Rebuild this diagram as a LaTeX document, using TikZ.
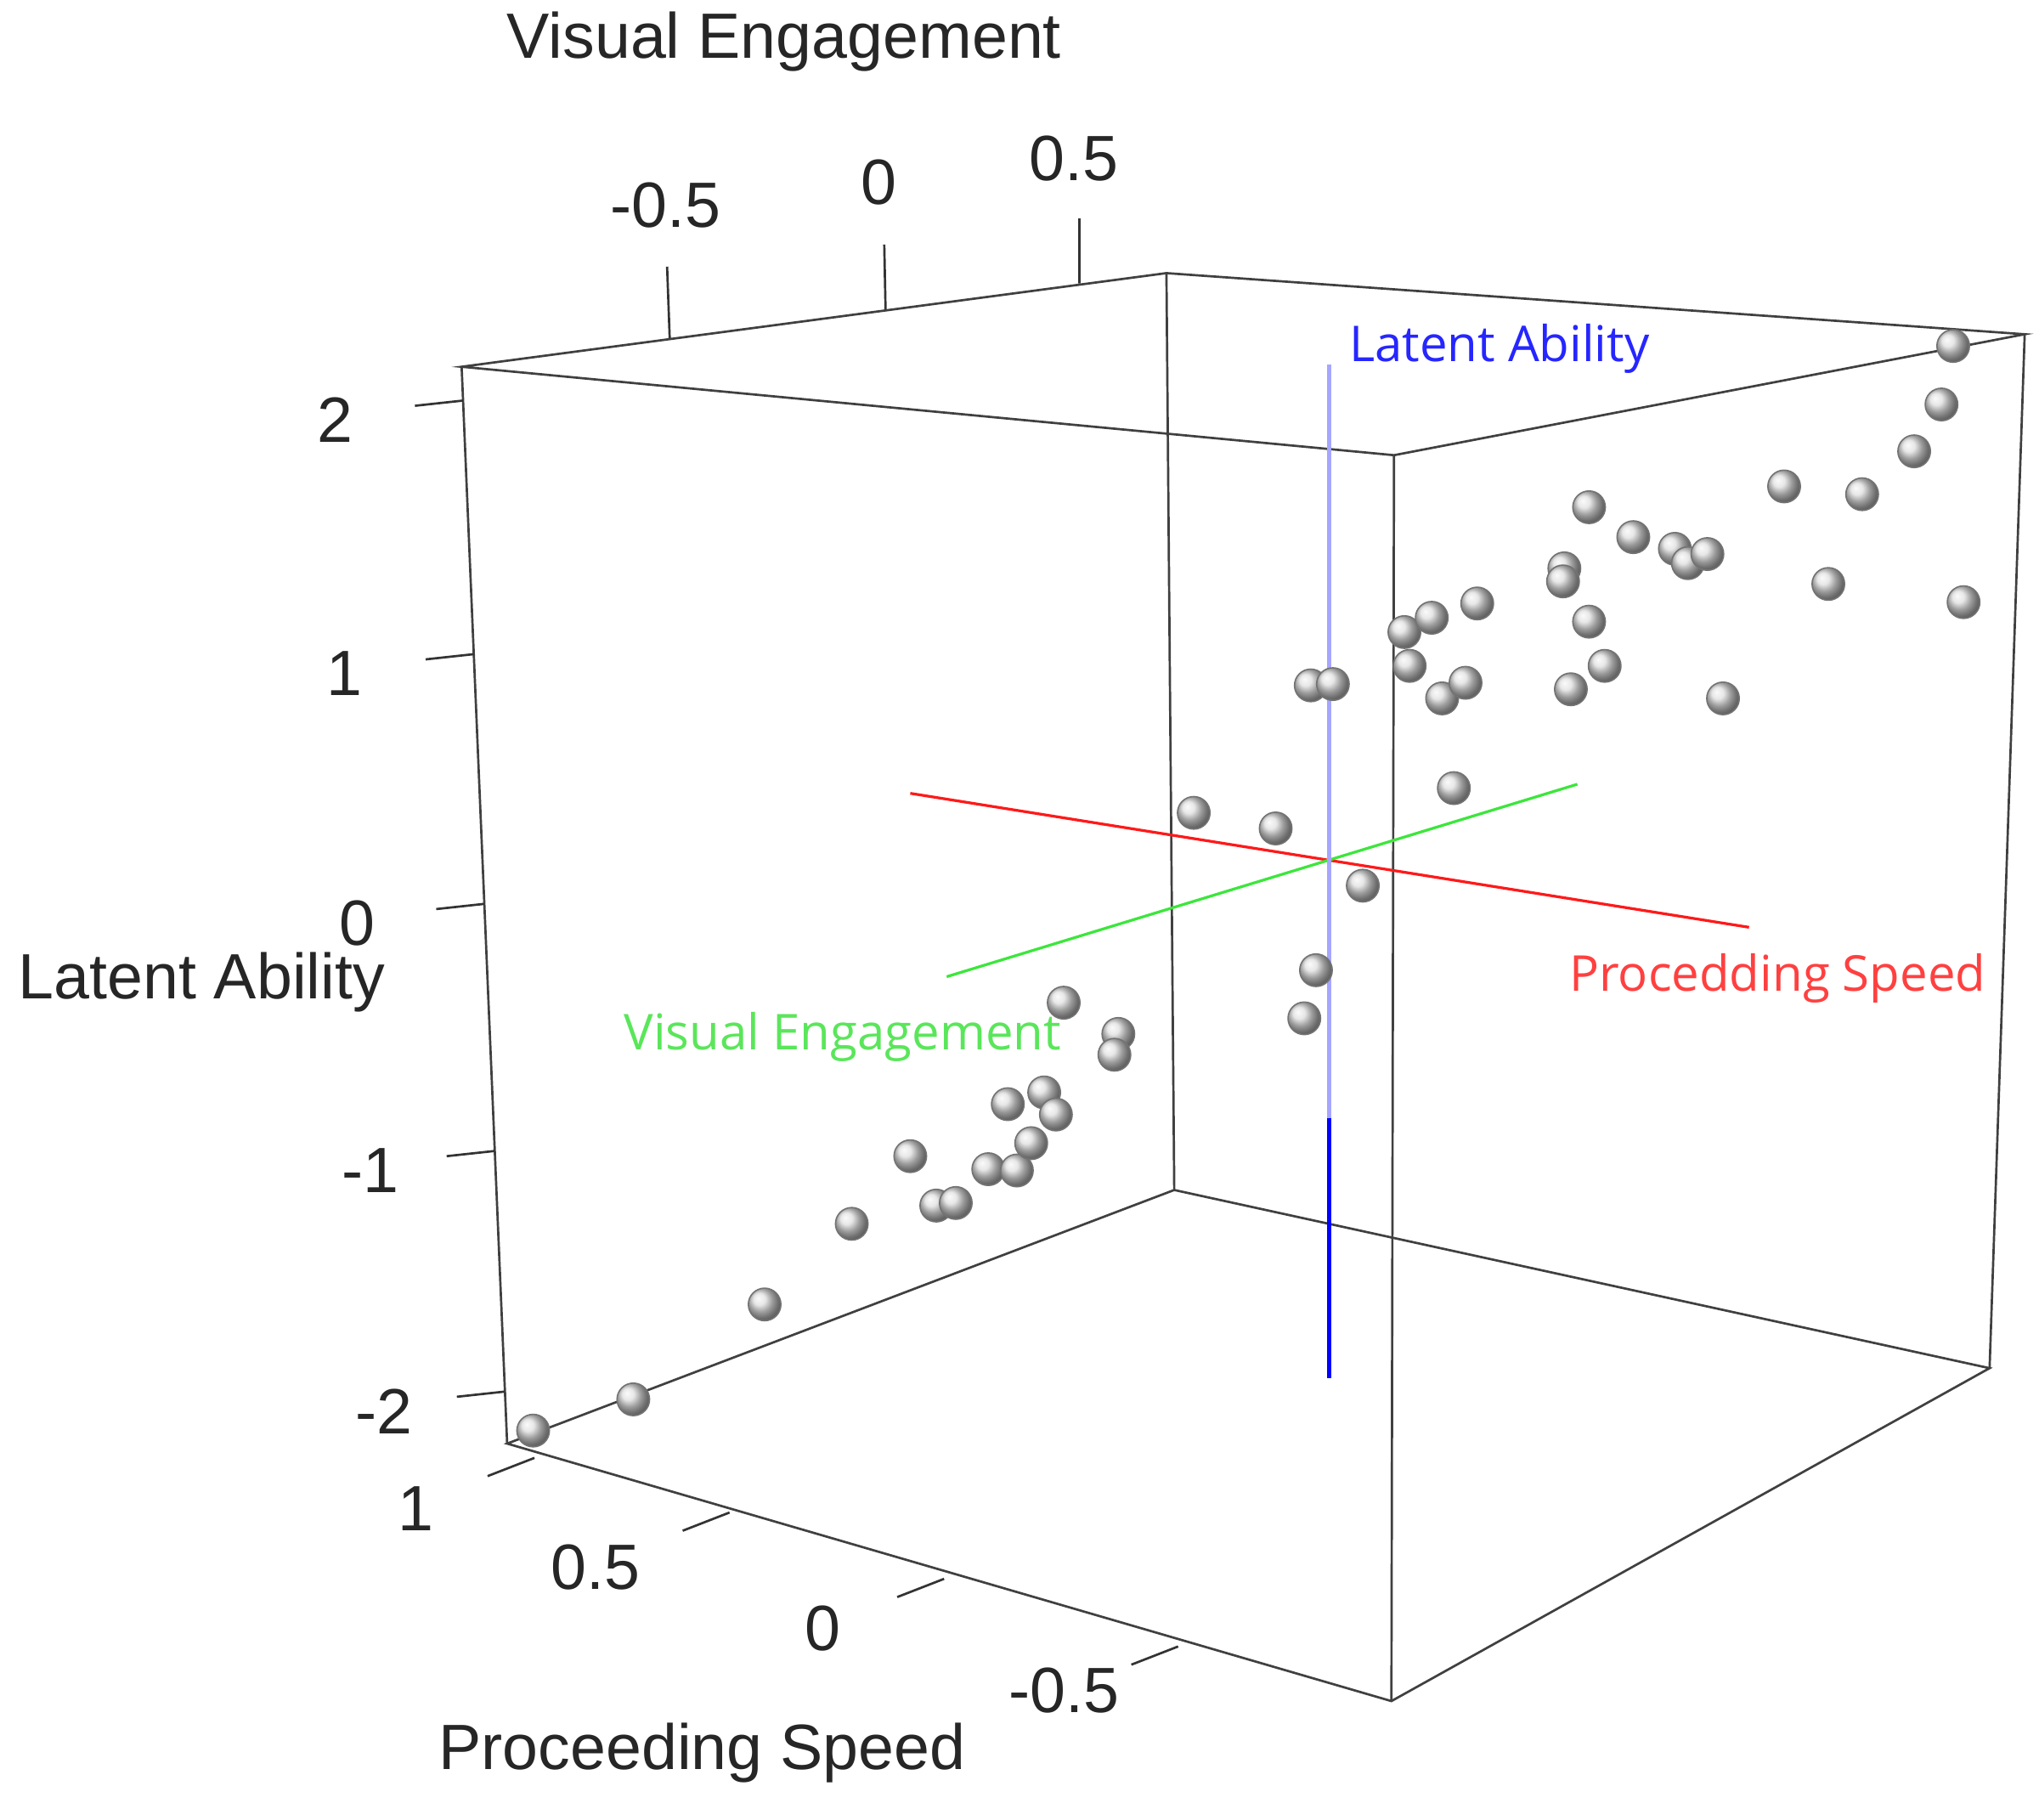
\documentclass[tikz,border=0pt]{standalone}
\usepackage{fontspec}
\setmainfont{Liberation Sans}
\newfontfamily\segoe{Open Sans}
\begin{document}
\begin{tikzpicture}[x=0.01cm,y=-0.01cm,
  edge/.style={draw=black!75,line width=0.5pt},
  tick/.style={draw=black!80,line width=0.5pt},
  lab/.style={font=\fontsize{14}{14}\selectfont,text=black!85,inner sep=0},
  clab/.style={font=\segoe\fontsize{10.8}{11}\selectfont,inner sep=0},
  ball/.style={circle,minimum size=0.25cm,inner sep=0,shading=ball,ball color=gray!25,draw=black!55,line width=0.3pt}]
\useasboundingbox[fill=white] (0,0) rectangle (1568,1399);
% cube vertices
\coordinate (t1) at (355,282); \coordinate (t2) at (897,210);
\coordinate (t3) at (1557,257); \coordinate (t4) at (1072,350);
\coordinate (b1) at (390,1110); \coordinate (b2) at (903,915);
\coordinate (b3) at (1530,1052); \coordinate (b4) at (1070,1308);
\draw[edge] (t1)--(t2)--(t3)--(t4)--cycle;
\draw[edge] (b1)--(b2)--(b3)--(b4)--cycle;
\draw[edge] (t1)--(b1) (t2)--(b2) (t3)--(b3) (t4)--(b4);
% visual engagement ticks
\coordinate (v1a) at (515,260); \coordinate (v1b) at (513,205);
\coordinate (v2a) at (681,238); \coordinate (v2b) at (680,188);
\coordinate (v3a) at (830,218); \coordinate (v3b) at (830,168);
\draw[tick] (v1a)--(v1b) (v2a)--(v2b) (v3a)--(v3b);
\node[lab] (v1) at (512,158) {-0.5};
\node[lab] (v2) at (676,140) {0};
\node[lab] (v3) at (826,122) {0.5};
\node[lab] (vt) at (603,32) {Visual Engagement};
% latent ability ticks
\foreach \y/\l/\lx [count=\i] in {308/2/258,503/1/265,695/0/275,885/-1/285,1070/-2/295}{
  \coordinate (la\i) at ({355+0.04227*(\y-282)-37},{\y+4});
  \coordinate (lb\i) at ({355+0.04227*(\y-282)},{\y});
  \draw[tick] (la\i)--(lb\i);
  \node[lab] (ll\i) at (\lx,{\y+15}) {\l};
}
\node[lab] (lt) at (155,755) {Latent Ability};
% proceeding speed ticks
\foreach \x/\y/\l/\lx/\ly [count=\i] in {375/1135/1/320/1160,525/1177/0.5/458/1205,690/1228/0/633/1252,870/1280/-0.5/818/1300}{
  \coordinate (pa\i) at (\x,\y);
  \coordinate (pb\i) at ({\x+36},{\y-14});
  \draw[tick] (pa\i)--(pb\i);
  \node[lab] (pl\i) at (\lx,\ly) {\l};
}
\node[lab] (pt) at (540,1348) {Proceeding Speed};
% axes
\coordinate (r1) at (700,610); \coordinate (r2) at (1345,713);
\coordinate (g1) at (728,751); \coordinate (g2) at (1213,603);
\coordinate (bl1) at (1022,280); \coordinate (bl2) at (1022,860); \coordinate (bl3) at (1022,1060);
\definecolor{axgreen}{RGB}{60,230,60}
\definecolor{labgreen}{RGB}{90,230,90}
\draw[red!90,line width=0.6pt] (r1)--(r2);
\draw[axgreen,line width=0.6pt] (g1)--(g2);
\draw[blue!35,line width=0.9pt] (bl1)--(bl2);
\draw[blue,line width=0.9pt] (bl2)--(bl3);
\node[clab,text=blue!85] (blab) at (1153,268) {Latent Ability};
\node[clab,text=red!75] (rlab) at (1367,752) {Procedding Speed};
\node[clab,text=labgreen] (glab) at (648,797) {Visual Engagement};
% points
\foreach \px/\py [count=\i] in {410/1100,487/1076,588/1003,655/941,720/927,735/925,700/889,760/899,782/900,793/879,775/849,803/840,812/857,818/771,860/795,857/811,918/625,981/637,1048/681,1012/746,1003/783,1008/527,1025/526,1080/486,1101/475,1136/464,1084/512,1109/537,1127/525,1118/606,1203/437,1202/447,1222/390,1256/413,1288/422,1298/433,1313/426,1222/478,1234/512,1208/530,1325/537,1372/374,1432/380,1406/449,1472/347,1493/311,1502/266,1510/463}{
  \node[ball] (p\i) at (\px,\py) {};
}
\end{tikzpicture}
\end{document}
